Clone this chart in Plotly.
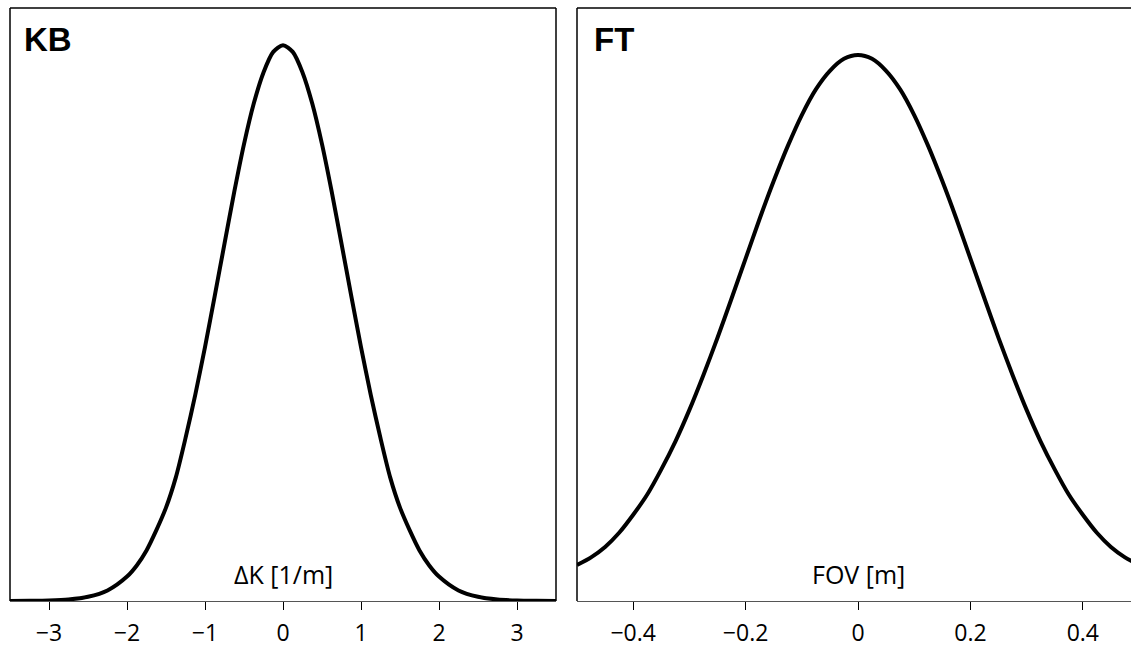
import plotly.graph_objects as go

# Left panel (KB): ΔK [1/m]
kb_x = [-3.5, -3.25, -3.0, -2.75, -2.5, -2.25, -2.0, -1.875, -1.75, -1.625, -1.5, -1.375, -1.25, -1.125,
        -1.0, -0.875, -0.75, -0.625, -0.5, -0.375, -0.25, -0.125, 0.0,
        0.125, 0.25, 0.375, 0.5, 0.625, 0.75, 0.875, 1.0, 1.125, 1.25, 1.375, 1.5, 1.625, 1.75, 1.875,
        2.0, 2.25, 2.5, 2.75, 3.0, 3.25, 3.5]
kb_y = [0.0001, 0.0003, 0.0009, 0.0027, 0.0076, 0.019, 0.044, 0.064, 0.091, 0.127, 0.168, 0.222, 0.293, 0.371,
        0.457, 0.549, 0.643, 0.736, 0.822, 0.895, 0.951, 0.988, 1.0,
        0.988, 0.951, 0.895, 0.822, 0.736, 0.643, 0.549, 0.457, 0.371, 0.293, 0.222, 0.168, 0.127, 0.091, 0.064,
        0.044, 0.019, 0.0076, 0.0027, 0.0009, 0.0003, 0.0001]

# Right panel (FT): FOV [m]
ft_x = [-0.5, -0.475, -0.45, -0.425, -0.4, -0.375, -0.35, -0.325, -0.3, -0.275, -0.25, -0.225, -0.2,
        -0.175, -0.15, -0.125, -0.1, -0.075, -0.05, -0.025, 0.0,
        0.025, 0.05, 0.075, 0.1, 0.125, 0.15, 0.175, 0.2, 0.225, 0.25, 0.275, 0.3, 0.325, 0.35,
        0.375, 0.4, 0.425, 0.45, 0.475, 0.5]
ft_y = [0.066, 0.080, 0.099, 0.125, 0.158, 0.195, 0.241, 0.292, 0.350, 0.414, 0.482, 0.554, 0.627,
        0.700, 0.769, 0.833, 0.890, 0.937, 0.971, 0.993, 1.0,
        0.993, 0.971, 0.937, 0.890, 0.833, 0.769, 0.700, 0.627, 0.554, 0.482, 0.414, 0.350, 0.292, 0.241,
        0.195, 0.158, 0.125, 0.099, 0.080, 0.066]

kb_ticks = [-3, -2, -1, 0, 1, 2, 3]
ft_ticks = [-0.4, -0.2, 0, 0.2, 0.4]

W, H = 1131, 648
L1, R1 = 10, 556
L2, R2 = 577, 1131
TOP, BOT = 8, 601
ft_range = [-0.5, -0.5 + (R2 - L2) / 562.0]   # right panel runs past the window edge

fig = go.Figure()
fig.add_trace(go.Scatter(x=kb_x, y=kb_y, mode="lines", line=dict(color="black", width=4, shape="spline", smoothing=0.8),
                         xaxis="x", yaxis="y", showlegend=False, hoverinfo="skip"))
fig.add_trace(go.Scatter(x=ft_x, y=ft_y, mode="lines", line=dict(color="black", width=4, shape="spline", smoothing=0.8),
                         xaxis="x2", yaxis="y2", showlegend=False, hoverinfo="skip"))

tickfont = dict(family="Open Sans, sans-serif", size=23, color="black")
titfont = dict(family="Open Sans, sans-serif", size=25, color="black")
common_x = dict(showgrid=False, zeroline=False, showline=True, linecolor="#555", linewidth=1,
                ticks="outside", ticklen=8, tickwidth=1.2, tickcolor="black", tickfont=tickfont,
                ticklabelstandoff=3, automargin=False)
common_y = dict(showgrid=False, zeroline=False, showline=False, showticklabels=False, ticks="",
                automargin=False)

fig.update_layout(
    width=W, height=H,
    margin=dict(l=0, r=0, t=TOP, b=H - BOT, autoexpand=False),
    paper_bgcolor="white", plot_bgcolor="white",
    xaxis=dict(domain=[L1 / W, R1 / W], range=[-3.5, 3.5], tickvals=kb_ticks, anchor="y", **common_x),
    yaxis=dict(domain=[0, 1], range=[0, 1.067], anchor="x", **common_y),
    xaxis2=dict(domain=[L2 / W, R2 / W], range=ft_range, tickvals=ft_ticks, anchor="y2", **common_x),
    yaxis2=dict(domain=[0, 1], range=[0, 1.086], anchor="x2", **common_y),
)

# Box borders
shapes = []
for (x0, y0, x1, y1) in [(0, 0, 0, 1), (0, 1, 1, 1), (1, 1, 1, 0)]:
    shapes.append(dict(type="line", xref="x domain", yref="y domain", x0=x0, y0=y0, x1=x1, y1=y1,
                       line=dict(color="black", width=1.5)))
for (x0, y0, x1, y1) in [(0, 0, 0, 1), (0, 1, 1, 1)]:
    shapes.append(dict(type="line", xref="x2 domain", yref="y2 domain", x0=x0, y0=y0, x1=x1, y1=y1,
                       line=dict(color="black", width=1.5)))
fig.update_layout(shapes=shapes)

titlefont = dict(family="Liberation Sans, Arial, sans-serif", size=33, color="black")
ann = [
    dict(text="<b>KB</b>", xref="x domain", yref="y domain", x=0, y=1, xanchor="left", yanchor="top",
         xshift=12, yshift=-11, showarrow=False, font=titlefont),
    dict(text="<b>FT</b>", xref="x2 domain", yref="y2 domain", x=0, y=1, xanchor="left", yanchor="top",
         xshift=15, yshift=-11, showarrow=False, font=titlefont),
    dict(text="ΔK [1/m]", xref="x", yref="y domain", x=0, y=0, xanchor="center", yanchor="middle",
         yshift=27, showarrow=False, font=titfont),
    dict(text="FOV [m]", xref="x2", yref="y2 domain", x=0, y=0, xanchor="center", yanchor="middle",
         yshift=27, showarrow=False, font=titfont),
]
fig.update_layout(annotations=ann)

fig.write_html("out.html", config={"displayModeBar": False},
               post_script="document.body.style.margin='0';document.body.style.overflow='hidden';")
